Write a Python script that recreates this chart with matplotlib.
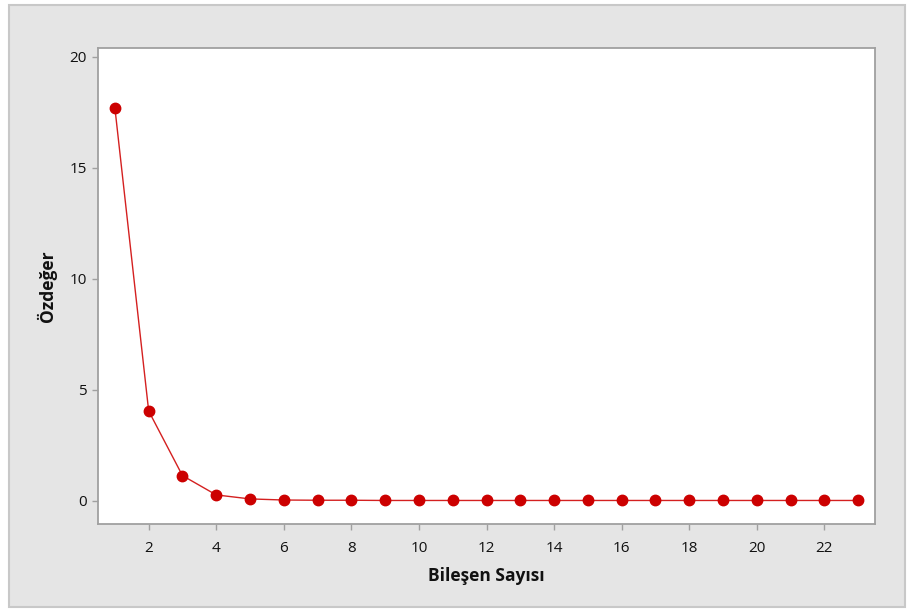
import matplotlib
matplotlib.use("Agg")
import matplotlib.pyplot as plt
from matplotlib.patches import Rectangle

bilesen = list(range(1, 24))
ozdeger = [17.7, 4.05, 1.14, 0.27, 0.09, 0.04, 0.03, 0.03, 0.02, 0.02, 0.02, 0.02,
           0.02, 0.02, 0.02, 0.02, 0.02, 0.02, 0.02, 0.02, 0.02, 0.02, 0.02]
x_ticks = list(range(2, 24, 2))
y_ticks = [0, 5, 10, 15, 20]

plt.rcParams['font.family'] = ['Open Sans', 'DejaVu Sans']

fig = plt.figure(figsize=(9.08, 6.10), dpi=100)
fig.patch.set_facecolor("white")
# grey panel behind the graph
fig.patches.append(Rectangle((9 / 908, 1 - 607 / 610), 896 / 908, 602 / 610,
                             transform=fig.transFigure, facecolor="#e5e5e5",
                             edgecolor="#c8c8c8", linewidth=1.5, zorder=-10))

ax = fig.add_axes([98 / 908, 1 - 524 / 610, 777 / 908, 476 / 610])
ax.set_zorder(1)
ax.set_facecolor("white")
ax.plot(bilesen, ozdeger, color="#d42020", linewidth=1.0, marker="o",
        markersize=7.5, markerfacecolor="#cc0000", markeredgecolor="#cc0000")

ax.set_xlim(0.5, 23.5)
ax.set_ylim(-1.04, 20.4)
ax.set_xticks(x_ticks)
ax.set_yticks(y_ticks)
ax.tick_params(direction="out", length=4, width=1, color="#a0a0a0",
               labelsize=11, labelcolor="#111111")
ax.tick_params(axis="x", pad=8)
ax.tick_params(axis="y", pad=4)
for s in ax.spines.values():
    s.set_color("#a0a0a0")
    s.set_linewidth(1.3)

ax.set_xlabel("Bileşen Sayısı", fontsize=12.5, fontweight="bold", color="#111111", labelpad=8)
ax.set_ylabel("Özdeğer", fontsize=12.5, fontweight="bold", color="#111111", labelpad=9)

fig.savefig("out.png", dpi=100)
